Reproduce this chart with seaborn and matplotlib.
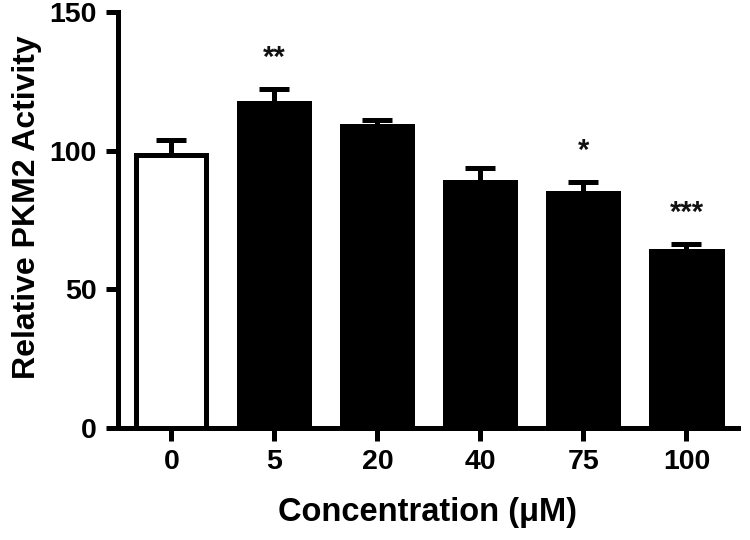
import numpy as np
import pandas as pd
import matplotlib
matplotlib.use("Agg")
import matplotlib.pyplot as plt
import seaborn as sns

# valeurs
concentrations = ["0", "5", "20", "40", "75", "100"]
activity = [98.5, 117.3, 108.9, 88.7, 84.8, 64.0]
sem = [5.3, 5.0, 2.3, 5.0, 4.0, 2.4]
stars = ["", "**", "", "", "*", "***"]
bar_colors = ["white", "black", "black", "black", "black", "black"]

sns.set_theme(style="ticks")
plt.rcParams["font.family"] = ["Liberation Sans", "DejaVu Sans"]
plt.rcParams["font.weight"] = "bold"
for key in ["text.color", "axes.labelcolor", "xtick.color", "ytick.color"]:
    plt.rcParams[key] = "black"

df = pd.DataFrame({"Concentration": concentrations, "Activity": activity})

fig = plt.figure(figsize=(7.5, 5.4), dpi=100)
ax = fig.add_axes([0.157, 0.207, 0.827, 0.771])

lw = 3.6
sns.barplot(data=df, x="Concentration", y="Activity", hue="Concentration",
            palette=bar_colors, legend=False, width=0.68, ax=ax,
            edgecolor="black", linewidth=lw, zorder=2)

xpos = np.arange(len(concentrations))
ax.errorbar(xpos, activity, yerr=[np.zeros(len(sem)), sem], fmt="none",
            ecolor="black", elinewidth=lw, capsize=11, capthick=lw, zorder=1)

for x, m, e, s in zip(xpos, activity, sem, stars):
    if s:
        ax.text(x, m + e + 11, s, ha="center", va="center",
                fontsize=21, fontweight="bold", color="#111111")

ax.set_ylim(0, 150)
ax.set_xlim(-0.52, 5.5)
ax.set_yticks([0, 50, 100, 150])
ax.set_ylabel("Relative PKM2 Activity", fontsize=23, fontweight="bold")
ax.yaxis.set_label_coords(-0.122, 0.53)
ax.set_xlabel("Concentration (\u03bcM)", fontsize=23.5, fontweight="bold", labelpad=16)
ax.tick_params(axis="both", width=lw, length=9, labelsize=20.5, pad=6, color="black")
for lab in ax.get_xticklabels() + ax.get_yticklabels():
    lab.set_fontweight("bold")

for side in ["top", "right"]:
    ax.spines[side].set_visible(False)
for side in ["left", "bottom"]:
    ax.spines[side].set_linewidth(lw)
    ax.spines[side].set_color("black")

fig.savefig("out.png", dpi=100)
plt.close(fig)
